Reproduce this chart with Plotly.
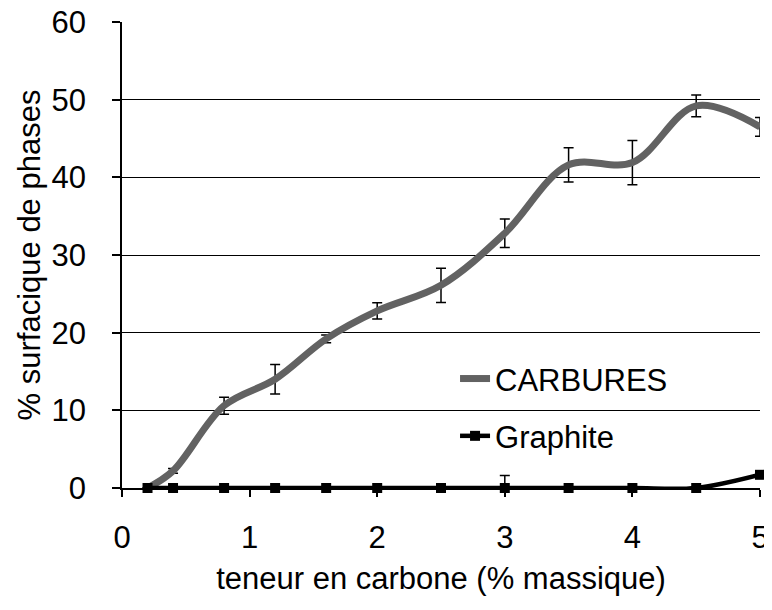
import plotly.graph_objects as go

# Data
x_carbon = [0.2, 0.4, 0.8, 1.2, 1.6, 2.0, 2.5, 3.0, 3.5, 4.0, 4.5, 5.0]
carbures = [0.0, 2.2, 10.6, 14.0, 19.2, 22.8, 26.1, 32.8, 41.6, 41.9, 49.2, 46.5]
carbures_err = [None, 0.3, 1.1, 1.9, 0.5, 1.05, 2.2, 1.85, 2.2, 2.85, 1.4, 1.2]
graphite = [0, 0, 0, 0, 0, 0, 0, 0, 0, 0, 0, 1.7]
graphite_err = [None, None, None, None, None, None, None, 1.6, None, None, None, None]
x_ticks = [0, 1, 2, 3, 4, 5]
y_ticks = [0, 10, 20, 30, 40, 50, 60]

FONT = "Liberation Sans, Arial, sans-serif"
FS = 31

fig = go.Figure()
fig.add_trace(go.Scatter(
    x=x_carbon, y=carbures, name="CARBURES", mode="lines",
    line=dict(color="#626262", width=7, shape="spline", smoothing=1),
    error_y=dict(type="data", array=carbures_err, visible=True,
                 color="black", thickness=1.5, width=5),
    legendgroup="a", cliponaxis=False,
))
fig.add_trace(go.Scatter(
    x=x_carbon, y=graphite, name="Graphite", mode="lines+markers",
    line=dict(color="black", width=4.5, shape="spline", smoothing=1),
    marker=dict(symbol="square", size=10, color="black"),
    error_y=dict(type="data", array=graphite_err, visible=True,
                 color="black", thickness=1.5, width=5),
    legendgroup="b", cliponaxis=False,
))

fig.update_layout(
    width=764, height=594,
    margin=dict(l=114, r=12, t=14, b=114),
    paper_bgcolor="white", plot_bgcolor="white",
    font=dict(family=FONT, size=FS, color="black"),
    showlegend=True,
    legend=dict(x=0.522, y=0.173, xanchor="left", yanchor="middle",
                bgcolor="rgba(0,0,0,0)", font=dict(size=FS),
                traceorder="grouped", tracegroupgap=14),
    xaxis=dict(range=[0, 5], tickvals=x_ticks, ticks="outside", ticklen=7,
               tickwidth=1.5, tickcolor="black", showline=True, linecolor="black",
               linewidth=1.5, showgrid=False, zeroline=False, automargin=False,
               ticklabelstandoff=14, ticklabeloverflow="allow",
               title=dict(text="teneur en carbone (% massique)", standoff=13,
                          font=dict(size=FS))),
    yaxis=dict(range=[0, 60], tickvals=y_ticks, ticks="outside", ticklen=8,
               tickwidth=1.5, tickcolor="black", showline=True, linecolor="black",
               linewidth=1.5, showgrid=True, gridcolor="black", gridwidth=1.3,
               zeroline=False, automargin=False, ticklabelstandoff=20,
               ticklabeloverflow="allow",
               title=dict(text="% surfacique de phases", standoff=2,
                          font=dict(size=FS))),
)

fig.write_html("out.html")
